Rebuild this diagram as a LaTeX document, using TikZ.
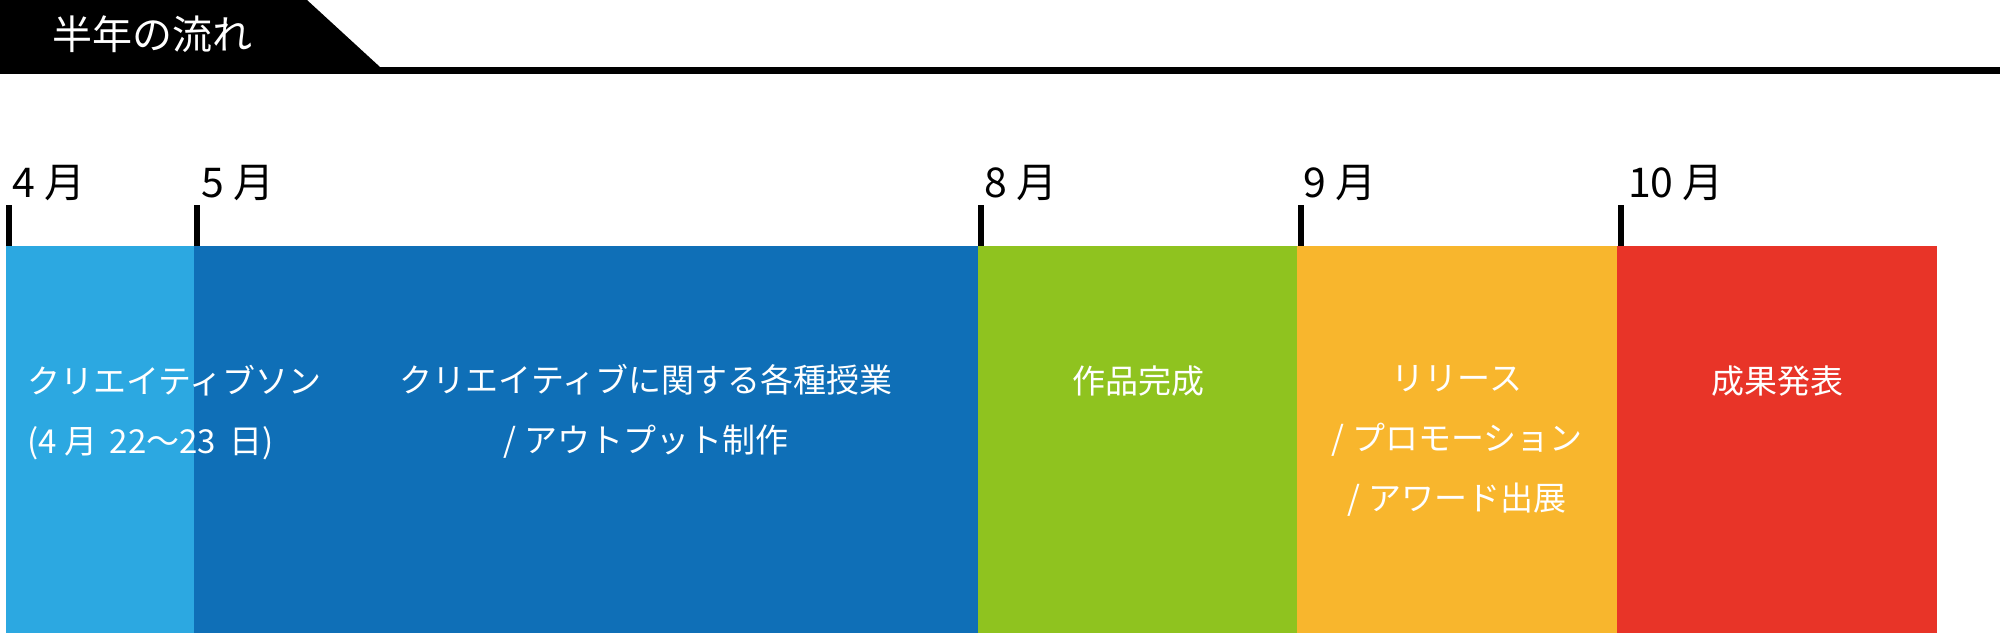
\documentclass[tikz,border=0pt]{standalone}
\usepackage{fontspec}
\setmainfont{Noto Sans CJK JP}
\usepackage{tikz}
\usepackage{xcolor}
\definecolor{lblue}{HTML}{2CA8E1}
\definecolor{dblue}{HTML}{0F6FB7}
\definecolor{lgreen}{HTML}{8FC31F}
\definecolor{lorange}{HTML}{F8B62D}
\definecolor{lred}{HTML}{E83428}
\tikzset{
  month/.style={anchor=base west, inner sep=0pt, font=\fontsize{41}{41}\selectfont},
  phase/.style={white, align=center, inner sep=0pt, font=\fontsize{33}{60}\selectfont}
}

\begin{document}
\begin{tikzpicture}[x=1pt, y=-1pt]
     \useasboundingbox (0,0) rectangle (2000,633);
     \fill [black](0,0) -- (307,0) -- (380,67) -- (0,67) -- cycle;
     \fill [black](0,67) rectangle (2000,74);
     \node[white, inner sep=0pt, font=\fontsize{40}{40}\selectfont] (title) at (152,34) {半年の流れ};
     \fill [lblue](6,246) rectangle (194,633);
     \fill [dblue](194,246) rectangle (978,633);
     \fill [lgreen](978,246) rectangle (1297,633);
     \fill [lorange](1297,246) rectangle (1617,633);
     \fill [lred](1617,246) rectangle (1937,633);
     \fill [black](6,205) rectangle (12,246);
     \fill [black](194,205) rectangle (200,246);
     \fill [black](978,205) rectangle (984,246);
     \fill [black](1298,205) rectangle (1304,246);
     \fill [black](1618,205) rectangle (1624,246);
     \node[month] (apr) at (12,197) {4 月};
     \node[month] (may) at (201,197) {5 月};
     \node[month] (aug) at (984,197) {8 月};
     \node[month] (sep) at (1303,197) {9 月};
     \node[month] (oct) at (1628,197) {10 月};
     \node[phase, align=left, anchor=west] (hackathon) at (27,413) {クリエイティブソン\\(4 月 \,22～23 \,日)};
     \node[phase] (lessons) at (646,411) {クリエイティブに関する各種授業\\/ アウトプット制作};
     \node[phase] (works) at (1138,381) {作品完成};
     \node[phase] (release) at (1457,441) {リリース\\/ プロモーション\\/ アワード出展};
     \node[phase] (results) at (1777,381) {成果発表};
\end{tikzpicture}
\end{document}
